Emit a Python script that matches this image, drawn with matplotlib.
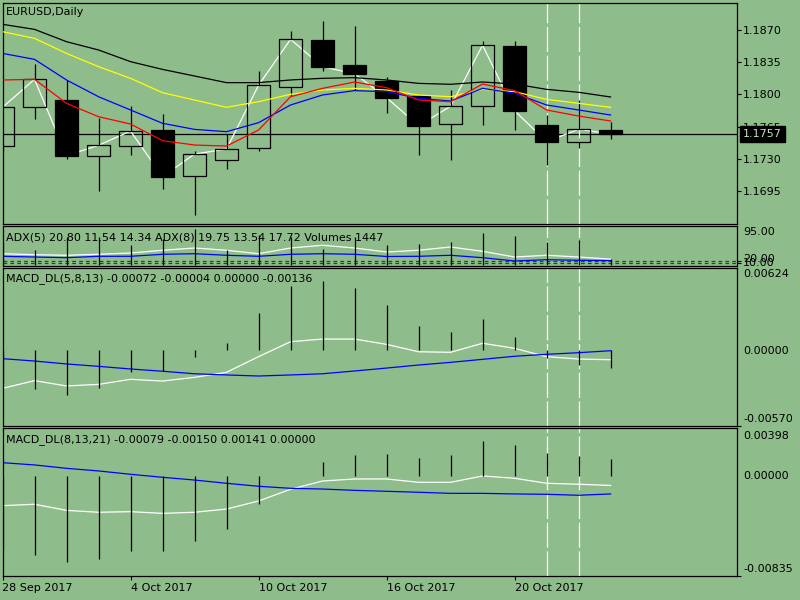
import numpy as np
import matplotlib.pyplot as plt
import matplotlib.transforms as mtransforms

# ---- data (EURUSD daily) ----
tick_pos = [0, 4, 8, 12, 16]
tick_labels = ['28 Sep 2017', '4 Oct 2017', '10 Oct 2017', '16 Oct 2017', '20 Oct 2017']

opens = [1.17442, 1.17860, 1.17939, 1.17327, 1.17439, 1.17613, 1.17116, 1.17290, 1.17414, 1.18084,
         1.18591, 1.18320, 1.18149, 1.17983, 1.17675, 1.17877, 1.18526, 1.17664, 1.17479, 1.17613]
highs = [1.17900, 1.18330, 1.18157, 1.17740, 1.17874, 1.17784, 1.17381, 1.17566, 1.18254, 1.18689,
         1.18798, 1.18743, 1.18186, 1.17993, 1.18048, 1.18577, 1.18577, 1.17776, 1.17939, 1.17700]
lows = [1.17380, 1.17729, 1.17294, 1.16953, 1.17341, 1.16975, 1.16689, 1.17192, 1.17388, 1.17986,
        1.18258, 1.18048, 1.17801, 1.17345, 1.17290, 1.17671, 1.17616, 1.17236, 1.17421, 1.17518]
closes = [1.17860, 1.18164, 1.17334, 1.17447, 1.17602, 1.17105, 1.17352, 1.17406, 1.18099, 1.18599,
          1.18301, 1.18225, 1.17964, 1.17660, 1.17871, 1.18534, 1.17823, 1.17486, 1.17621, 1.17570]
last_price = 1.1757

ma_black = [1.18762, 1.18707, 1.18573, 1.18483, 1.18356, 1.18272, 1.18200, 1.18128, 1.18128, 1.18157,
            1.18175, 1.18182, 1.18157, 1.18120, 1.18110, 1.18135, 1.18113, 1.18055, 1.18023, 1.17972]
ma_yellow = [1.18682, 1.18609, 1.18446, 1.18302, 1.18175, 1.18019, 1.17939, 1.17860, 1.17921, 1.18001,
             1.18048, 1.18066, 1.18048, 1.17994, 1.17975, 1.18055, 1.18030, 1.17946, 1.17903, 1.17860]
ma_blue = [1.18446, 1.18381, 1.18157, 1.17975, 1.17831, 1.17686, 1.17620, 1.17595, 1.17693, 1.17885,
           1.17994, 1.18041, 1.18030, 1.17957, 1.17928, 1.18066, 1.18012, 1.17885, 1.17831, 1.17776]
ma_red = [1.18157, 1.18164, 1.17903, 1.17758, 1.17678, 1.17497, 1.17450, 1.17439, 1.17613, 1.17975,
          1.18066, 1.18135, 1.18073, 1.17939, 1.17921, 1.18113, 1.18041, 1.17831, 1.17765, 1.17711]

adx5 = [32.9, 30.7, 29.4, 31.6, 34.5, 40.6, 45.7, 40.6, 32.9, 45.7,
        51.8, 45.7, 36.7, 40.6, 48.0, 38.3, 25.5, 29.4, 25.5, 20.8]
adx8 = [27.1, 25.5, 24.0, 27.1, 27.1, 31.6, 32.9, 29.4, 27.1, 31.6,
        32.9, 31.6, 26.7, 27.1, 29.4, 24.0, 16.6, 19.5, 18.2, 17.5]
adx_levels = [15.9, 11.4]
volumes = [6200, 3860, 7420, 7420, 5280, 6970, 9650, 3860, 8040, 7420,
           4290, 7420, 5410, 5470, 6080, 8500, 7690, 6080, 6540, 1447]

m1_hist = [-0.00250, -0.00293, -0.00338, -0.00283, -0.00162, -0.00157, -0.00049, 0.00052, 0.00278, 0.00487,
           0.00522, 0.00467, 0.00341, 0.00183, 0.00135, 0.00235, 0.00100, -0.00057, -0.00112, -0.00136]
m1_white = [-0.00288, -0.00230, -0.00270, -0.00258, -0.00220, -0.00233, -0.00205, -0.00167, -0.00049, 0.00064,
            0.00084, 0.00084, 0.00044, -0.00012, -0.00016, 0.00052, 0.00014, -0.00049, -0.00067, -0.00072]
m1_blue = [-0.00064, -0.00082, -0.00104, -0.00122, -0.00142, -0.00159, -0.00178, -0.00187, -0.00195, -0.00187,
           -0.00178, -0.00157, -0.00135, -0.00112, -0.00092, -0.00069, -0.00046, -0.00031, -0.00019, -0.00004]

m2_hist = [-0.00620, -0.00660, -0.00716, -0.00693, -0.00626, -0.00626, -0.00543, -0.00443, -0.00234, 0.00003,
           0.00114, 0.00175, 0.00183, 0.00148, 0.00175, 0.00292, 0.00259, 0.00189, 0.00167, 0.00141]
m2_white = [-0.00248, -0.00236, -0.00287, -0.00303, -0.00298, -0.00312, -0.00303, -0.00276, -0.00209, -0.00111,
            -0.00042, -0.00025, -0.00025, -0.00053, -0.00053, 0.00000, -0.00019, -0.00061, -0.00069, -0.00079]
m2_blue = [0.00111, 0.00092, 0.00064, 0.00042, 0.00014, -0.00011, -0.00034, -0.00061, -0.00086, -0.00103,
           -0.00109, -0.00120, -0.00128, -0.00136, -0.00145, -0.00145, -0.00150, -0.00153, -0.00161, -0.00150]

marked_bars = [17, 18]

# ---- layout ----
W, H = 800, 600
BG = '#8fbc8b'
plt.rcParams['font.family'] = 'DejaVu Sans'
plt.rcParams['font.size'] = 8

def rect(top, bottom, left=2.5, right=737):
    return [left / W, 1 - bottom / H, (right - left) / W, (bottom - top) / H]

fig = plt.figure(figsize=(8, 6), dpi=100, facecolor=BG)
ax = fig.add_axes(rect(2.5, 223.5))
ax_adx = fig.add_axes(rect(226, 265.5))
ax_m1 = fig.add_axes(rect(267.5, 425.7))
ax_m2 = fig.add_axes(rect(428.3, 576))
axes = [ax, ax_adx, ax_m1, ax_m2]

x = np.arange(len(closes))
for a in axes:
    a.set_facecolor(BG)
    a.set_xlim(0, 22.95)
    for s in a.spines.values():
        s.set_color('black')
        s.set_linewidth(0.9)
    a.tick_params(axis='x', bottom=False, labelbottom=False)
    # vertical marker lines sit behind the bars
    for b in marked_bars:
        a.axvline(b, color='white', lw=0.9, linestyle=(0, (20, 3)), zorder=1.5)

# ---- main price panel ----
ax.set_ylim(1.16597, 1.18999)
ax.axhline(last_price, color='black', lw=0.9, zorder=1)
ax.plot(x, closes, color='white', lw=0.9, zorder=2)
o = np.array(opens); c = np.array(closes)
bull = c >= o
top = np.maximum(o, c); bot = np.minimum(o, c)
ax.vlines(x, top, highs, color='black', lw=0.9, zorder=3)
ax.vlines(x, lows, bot, color='black', lw=0.9, zorder=3)
ax.bar(x[bull], (top - bot)[bull], bottom=bot[bull], width=0.7, facecolor='none',
       edgecolor='black', lw=0.9, zorder=4)
ax.bar(x[~bull], (top - bot)[~bull], bottom=bot[~bull], width=0.7, facecolor='black',
       edgecolor='black', lw=0.9, zorder=4)
ax.plot(x, ma_black, color='black', lw=0.9, zorder=5)
ax.plot(x, ma_yellow, color='#ffff00', lw=0.9, zorder=5)
ax.plot(x, ma_blue, color='#0000ff', lw=0.9, zorder=5)
ax.plot(x, ma_red, color='#ff0000', lw=0.9, zorder=5)

ax.set_yticks([1.1870, 1.1835, 1.1800, 1.1765, 1.1730, 1.1695])
ax.set_yticklabels(['%.4f' % v for v in ax.get_yticks()])
ax.yaxis.tick_right()
ax.tick_params(axis='y', direction='out', length=3, width=0.8, pad=1.5, labelsize=8)
ax.text(0.005, 0.955, 'EURUSD,Daily', transform=ax.transAxes, va='center', ha='left')
tr = mtransforms.blended_transform_factory(ax.transAxes, ax.transData)
ax.text(1.0085, last_price, '%.4f' % last_price, transform=tr, va='center', ha='left',
        color='#c4e0c0', bbox=dict(boxstyle='square,pad=0.25', facecolor='black', edgecolor='black'),
        clip_on=False, zorder=10)

# ---- ADX / volumes panel ----
ax_adx.set_ylim(6.5, 95)
axv = ax_adx.twinx()
axv.set_position(ax_adx.get_position())
axv.set_ylim(-214, 10372)
axv.set_xlim(0, 22.95)
axv.vlines(x, 0, volumes, color='black', lw=0.9)
axv.set_yticks([])
axv.axis('off')
for lv in adx_levels:
    ax_adx.axhline(lv, color='#006400', lw=0.9, linestyle=(0, (3, 2.5)))
ax_adx.plot(x, adx5, color='white', lw=0.9)
ax_adx.plot(x, adx8, color='#0000ff', lw=0.9)
ax_adx.set_yticks(adx_levels)
ax_adx.yaxis.tick_right()
ax_adx.tick_params(axis='y', direction='out', length=3, width=0.8, labelright=False)
ax_adx.text(0.005, 0.72, 'ADX(5) 20.80 11.54 14.34 ADX(8) 19.75 13.54 17.72 Volumes 1447',
            transform=ax_adx.transAxes, va='center', ha='left', zorder=7)

# ---- MACD panels ----
for a, hist, wl, bl, lo, hi, title in [
        (ax_m1, m1_hist, m1_white, m1_blue, -0.00570, 0.00624,
         'MACD_DL(5,8,13) -0.00072 -0.00004 0.00000 -0.00136'),
        (ax_m2, m2_hist, m2_white, m2_blue, -0.00835, 0.00398,
         'MACD_DL(8,13,21) -0.00079 -0.00150 0.00141 0.00000')]:
    a.set_ylim(lo, hi)
    a.vlines(x, 0, hist, color='black', lw=0.9, zorder=3)
    a.plot(x, wl, color='white', lw=0.9, zorder=2)
    a.plot(x, bl, color='#0000ff', lw=0.9, zorder=2)
    a.set_yticks([lo])
    a.yaxis.tick_right()
    a.tick_params(axis='y', direction='out', length=3, width=0.8, labelright=False)
    a.text(0.005, 1 - 11.5 / (a.get_position().height * H), title,
           transform=a.transAxes, va='center', ha='left', zorder=7)

# right-hand scale labels of the sub windows
def rlabel(y, s):
    fig.text(743 / W, 1 - y / H, s, va='center', ha='left')

rlabel(231.7, '95.00')
rlabel(259.5, '20.00')
rlabel(262.5, '10.00')
rlabel(274.3, '%.5f' % 0.00624)
rlabel(351.0, '0.00000')
rlabel(419.3, '%.5f' % -0.00570)
rlabel(435.7, '%.5f' % 0.00398)
rlabel(476.0, '0.00000')
rlabel(569.0, '%.5f' % -0.00835)

# x axis labels on the bottom panel
ax_m2.set_xticks(tick_pos)
ax_m2.set_xticklabels(tick_labels)
ax_m2.tick_params(axis='x', bottom=True, labelbottom=True, direction='out', length=3,
                  width=0.8, pad=2, labelsize=8)
for lab in ax_m2.get_xticklabels():
    lab.set_ha('left')

fig.savefig('out.png', dpi=100, facecolor=BG)
